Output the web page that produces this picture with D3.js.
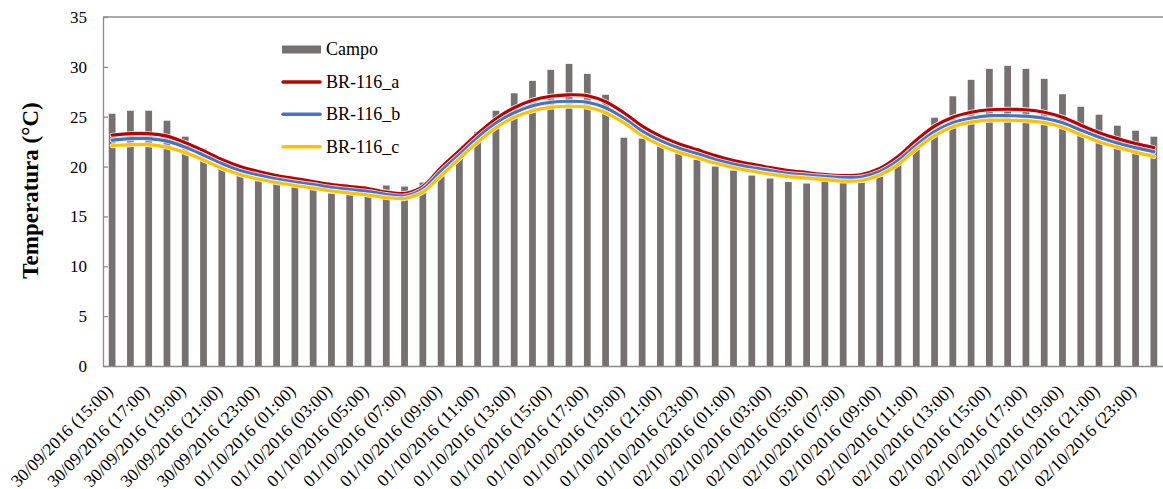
<!DOCTYPE html>
<html>
<head>
<meta charset="utf-8">
<script src="https://cdn.jsdelivr.net/npm/d3@7/dist/d3.min.js"></script>
<style>
  html, body { margin: 0; padding: 0; background: #fff; }
  svg { display: block; }
</style>
</head>
<body>
<svg id="chart" width="1163" height="489"></svg>
<script>
// Hourly timestamps (categories of the x axis)
const categorias = [
  "30/09/2016 (15:00)", "30/09/2016 (16:00)", "30/09/2016 (17:00)", "30/09/2016 (18:00)",
  "30/09/2016 (19:00)", "30/09/2016 (20:00)", "30/09/2016 (21:00)", "30/09/2016 (22:00)",
  "30/09/2016 (23:00)",
  "01/10/2016 (00:00)", "01/10/2016 (01:00)", "01/10/2016 (02:00)", "01/10/2016 (03:00)",
  "01/10/2016 (04:00)", "01/10/2016 (05:00)", "01/10/2016 (06:00)", "01/10/2016 (07:00)",
  "01/10/2016 (08:00)", "01/10/2016 (09:00)", "01/10/2016 (10:00)", "01/10/2016 (11:00)",
  "01/10/2016 (12:00)", "01/10/2016 (13:00)", "01/10/2016 (14:00)", "01/10/2016 (15:00)",
  "01/10/2016 (16:00)", "01/10/2016 (17:00)", "01/10/2016 (18:00)", "01/10/2016 (19:00)",
  "01/10/2016 (20:00)", "01/10/2016 (21:00)", "01/10/2016 (22:00)", "01/10/2016 (23:00)",
  "02/10/2016 (00:00)", "02/10/2016 (01:00)", "02/10/2016 (02:00)", "02/10/2016 (03:00)",
  "02/10/2016 (04:00)", "02/10/2016 (05:00)", "02/10/2016 (06:00)", "02/10/2016 (07:00)",
  "02/10/2016 (08:00)", "02/10/2016 (09:00)", "02/10/2016 (10:00)", "02/10/2016 (11:00)",
  "02/10/2016 (12:00)", "02/10/2016 (13:00)", "02/10/2016 (14:00)", "02/10/2016 (15:00)",
  "02/10/2016 (16:00)", "02/10/2016 (17:00)", "02/10/2016 (18:00)", "02/10/2016 (19:00)",
  "02/10/2016 (20:00)", "02/10/2016 (21:00)", "02/10/2016 (22:00)", "02/10/2016 (23:00)",
  "03/10/2016 (00:00)"
];

// Labels printed on the x axis (every second hour)
const rotulosX = [
  "30/09/2016 (15:00)", "30/09/2016 (17:00)", "30/09/2016 (19:00)", "30/09/2016 (21:00)",
  "30/09/2016 (23:00)", "01/10/2016 (01:00)", "01/10/2016 (03:00)", "01/10/2016 (05:00)",
  "01/10/2016 (07:00)", "01/10/2016 (09:00)", "01/10/2016 (11:00)", "01/10/2016 (13:00)",
  "01/10/2016 (15:00)", "01/10/2016 (17:00)", "01/10/2016 (19:00)", "01/10/2016 (21:00)",
  "01/10/2016 (23:00)", "02/10/2016 (01:00)", "02/10/2016 (03:00)", "02/10/2016 (05:00)",
  "02/10/2016 (07:00)", "02/10/2016 (09:00)", "02/10/2016 (11:00)", "02/10/2016 (13:00)",
  "02/10/2016 (15:00)", "02/10/2016 (17:00)", "02/10/2016 (19:00)", "02/10/2016 (21:00)",
  "02/10/2016 (23:00)"
];

const ticksY = [0, 5, 10, 15, 20, 25, 30, 35];

// Measured temperature (bars)
const campo = [
  25.3, 25.6, 25.6, 24.6, 23.0, 21.8, 20.1, 19.3, 18.6, 18.4,
  18.0, 17.8, 17.3, 17.2, 17.0, 18.1, 18.0, 18.4, 19.7, 21.4,
  23.5, 25.6, 27.35, 28.6, 29.7, 30.3, 29.3, 27.2, 22.9, 22.8,
  22.3, 21.5, 20.7, 20.0, 19.6, 19.1, 18.8, 18.45, 18.3, 19.4,
  19.2, 18.4, 19.0, 21.0, 22.6, 24.9, 27.05, 28.7, 29.8, 30.1,
  29.8, 28.8, 27.25, 26.0, 25.2, 24.1, 23.6, 23.0
];

// Simulated temperature, three configurations
const br116a = [
  23.15, 23.3, 23.3, 23.05, 22.4, 21.6, 20.7, 20.0, 19.5, 19.1,
  18.8, 18.5, 18.2, 18.0, 17.8, 17.45, 17.3, 18.0, 19.9, 21.6,
  23.3, 24.8, 25.9, 26.65, 27.05, 27.2, 27.1, 26.5, 25.4, 24.05,
  23.05, 22.3, 21.7, 21.1, 20.6, 20.25, 19.9, 19.6, 19.4, 19.2,
  19.1, 19.2, 19.8, 21.0, 22.65, 24.05, 24.95, 25.45, 25.7, 25.75,
  25.7, 25.45, 24.95, 24.15, 23.4, 22.8, 22.3, 21.9
];
const br116b = [
  22.65, 22.8, 22.8, 22.55, 21.95, 21.15, 20.3, 19.6, 19.15, 18.75,
  18.45, 18.2, 17.9, 17.7, 17.5, 17.2, 17.05, 17.75, 19.55, 21.2,
  22.9, 24.35, 25.4, 26.1, 26.45, 26.55, 26.45, 25.9, 24.85, 23.55,
  22.6, 21.85, 21.3, 20.7, 20.25, 19.9, 19.6, 19.3, 19.15, 19.0,
  18.9, 18.95, 19.5, 20.6, 22.15, 23.5, 24.4, 24.85, 25.1, 25.1,
  25.05, 24.85, 24.4, 23.65, 22.95, 22.35, 21.9, 21.5
];
const br116c = [
  22.1, 22.2, 22.2, 21.95, 21.4, 20.65, 19.85, 19.2, 18.75, 18.4,
  18.1, 17.85, 17.55, 17.35, 17.15, 16.9, 16.8, 17.45, 19.1, 20.8,
  22.45, 23.9, 24.95, 25.6, 25.95, 26.05, 25.95, 25.4, 24.4, 23.1,
  22.15, 21.45, 20.9, 20.35, 19.9, 19.55, 19.25, 19.0, 18.85, 18.7,
  18.55, 18.6, 19.15, 20.2, 21.75, 23.1, 24.0, 24.45, 24.65, 24.65,
  24.6, 24.4, 23.95, 23.2, 22.5, 21.95, 21.45, 21.0
];

const series = [
  { nome: "BR-116_a", valores: br116a, cor: "#C00000" },
  { nome: "BR-116_b", valores: br116b, cor: "#4472C4" },
  { nome: "BR-116_c", valores: br116c, cor: "#FFC000" }
];

const corBarras = "#767171";
const corEixo = "#8c8c8c";
const fonte = "\"Liberation Serif\"";

const svg = d3.select("#chart");
const area = { left: 103, right: 1163, top: 17, bottom: 366 };

const x = d3.scaleBand()
  .domain(categorias)
  .range([area.left, area.right])
  .paddingInner(0.63)
  .paddingOuter(0.315);

const y = d3.scaleLinear()
  .domain([0, 35])
  .range([area.bottom, area.top]);

// Bars
svg.append("g")
  .selectAll("rect")
  .data(campo)
  .join("rect")
  .attr("x", (d, i) => x(categorias[i]))
  .attr("y", d => y(d))
  .attr("width", x.bandwidth())
  .attr("height", d => y(0) - y(d))
  .attr("fill", corBarras);

// Top edge of the plot frame
svg.append("line")
  .attr("x1", area.left).attr("x2", area.right)
  .attr("y1", area.top).attr("y2", area.top)
  .attr("stroke", corEixo).attr("stroke-width", 1.3);

// Y axis with inward ticks
const yAxis = d3.axisLeft(y).tickValues(ticksY).tickSize(-5).tickPadding(16).tickSizeOuter(0);
const gy = svg.append("g").attr("transform", `translate(${area.left},0)`).call(yAxis);
gy.attr("font-family", null);
gy.select(".domain").attr("stroke", corEixo).attr("stroke-width", 1.3);
gy.selectAll(".tick line").attr("stroke", corEixo).attr("stroke-width", 1.3);
gy.selectAll(".tick text")
  .style("font-size", "17px")
  .attr("fill", "#000");

// X axis (baseline + rotated labels)
const xAxis = d3.axisBottom(x)
  .tickValues(rotulosX)
  .tickSize(0)
  .tickSizeOuter(0);
const gx = svg.append("g").attr("transform", `translate(0,${area.bottom})`).call(xAxis);
gx.attr("font-family", null);
gx.select(".domain").attr("stroke", corEixo).attr("stroke-width", 1.3);
gx.selectAll(".tick text")
  .style("font-size", "17.5px")
  .attr("fill", "#000")
  .attr("text-anchor", "end")
  .attr("x", 0)
  .attr("y", 0)
  .attr("dy", "0.7em")
  .attr("transform", "translate(-7,17.5) rotate(-45)");

// Smoothed model lines
const linha = d3.line()
  .x((d, i) => x(categorias[i]) + x.bandwidth() / 2)
  .y(d => y(d))
  .curve(d3.curveCatmullRom.alpha(0.5));

const gl = svg.append("g");
series.forEach(s => {
  gl.append("path")
    .attr("d", linha(s.valores))
    .attr("fill", "none")
    .attr("stroke", "#ffffff")
    .attr("stroke-opacity", 0.8)
    .attr("stroke-width", 5)
    .attr("stroke-linecap", "round");
  gl.append("path")
    .attr("d", linha(s.valores))
    .attr("fill", "none")
    .attr("stroke", s.cor)
    .attr("stroke-width", 3.2)
    .attr("stroke-linecap", "round");
});

// Y axis title
svg.append("text")
  .attr("transform", "translate(37.5,190.5) rotate(-90)")
  .attr("text-anchor", "middle")
  .style("font-size", "23px")
  .style("font-weight", "bold")
  .text("Temperatura (\u00B0C)");

// Legend
const leg = svg.append("g");
const legY0 = 49.5, legStep = 32.4;
leg.append("rect")
  .attr("x", 282).attr("y", legY0 - 4)
  .attr("width", 39).attr("height", 8)
  .attr("fill", corBarras);
leg.append("text")
  .attr("x", 326).attr("y", legY0).attr("dy", "0.33em")
  .style("font-size", "18px")
  .text("Campo");
series.forEach((s, k) => {
  const yy = legY0 + legStep * (k + 1);
  leg.append("line")
    .attr("x1", 283).attr("x2", 320)
    .attr("y1", yy).attr("y2", yy)
    .attr("stroke", s.cor).attr("stroke-width", 3.5)
    .attr("stroke-linecap", "round");
  leg.append("text")
    .attr("x", 326).attr("y", yy).attr("dy", "0.33em")
    .style("font-size", "18px")
    .text(s.nome);
});

// Serif type for every label
svg.selectAll("text").style("font-family", fonte).attr("fill", "#000");
</script>
</body>
</html>
